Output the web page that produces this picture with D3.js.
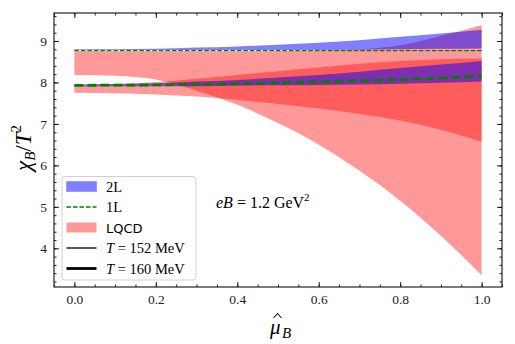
<!DOCTYPE html>
<html>
<head>
<meta charset="utf-8">
<script src="https://cdn.jsdelivr.net/npm/d3@7"></script>
<style>
  body { margin: 0; background: #fff; }
  text { font-family: "Liberation Serif", "DejaVu Serif", serif; }
</style>
</head>
<body>
<div id="chart"></div>
<script>
// values (mu_B hat on x)
var muB = [0, 0.1, 0.2, 0.3, 0.4, 0.5, 0.6, 0.7, 0.8, 0.9, 1.0];

// LQCD bands
var lqcd152Lo = [8.18, 8.16, 8.07, 7.80, 7.46, 7.02, 6.50, 5.87, 5.15, 4.30, 3.35];
var lqcd152Hi = [8.75, 8.75, 8.75, 8.75, 8.75, 8.76, 8.77, 8.80, 8.90, 9.12, 9.38];
var lqcd160Lo = [7.75, 7.74, 7.71, 7.66, 7.58, 7.48, 7.37, 7.24, 7.08, 6.86, 6.57];
var lqcd160Hi = [7.93, 7.96, 8.01, 8.09, 8.18, 8.27, 8.36, 8.45, 8.52, 8.56, 8.58];

// 2L bands
var twoL152Lo = [8.78, 8.78, 8.78, 8.78, 8.78, 8.78, 8.78, 8.79, 8.80, 8.81, 8.82];
var twoL152Hi = [8.80, 8.80, 8.81, 8.84, 8.87, 8.91, 8.96, 9.02, 9.10, 9.18, 9.27];
var twoL160Lo = [7.91, 7.91, 7.91, 7.91, 7.92, 7.93, 7.94, 7.95, 7.97, 7.99, 8.02];
var twoL160Hi = [7.95, 7.96, 7.98, 8.02, 8.06, 8.12, 8.18, 8.26, 8.35, 8.43, 8.52];

// 1L lines
var oneL152 = [8.77, 8.77, 8.77, 8.77, 8.77, 8.77, 8.77, 8.77, 8.77, 8.77, 8.77];
var oneL160 = [7.93, 7.935, 7.94, 7.955, 7.97, 7.99, 8.02, 8.04, 8.07, 8.11, 8.15];

var xTicks = [0, 0.2, 0.4, 0.6, 0.8, 1.0];
var yTicks = [4, 5, 6, 7, 8, 9];

var W = 515, H = 344;
var L = 54, R = 502, T = 13, B = 287;

var svg = d3.select("#chart").append("svg")
  .attr("width", W).attr("height", H);

var x = d3.scaleLinear().domain([-0.05, 1.05]).range([L, R]);
var y = d3.scaleLinear().domain([3.067, 9.675]).range([B, T]);

function band(lo, hi) {
  return d3.area()
    .x(function(d, i) { return x(muB[i]); })
    .y0(function(d, i) { return y(lo[i]); })
    .y1(function(d, i) { return y(hi[i]); })
    .curve(d3.curveMonotoneX)(muB);
}
function line(v) {
  return d3.line()
    .x(function(d, i) { return x(muB[i]); })
    .y(function(d, i) { return y(v[i]); })
    .curve(d3.curveMonotoneX)(muB);
}

var plot = svg.append("g");

// LQCD
[[lqcd152Lo, lqcd152Hi], [lqcd160Lo, lqcd160Hi]].forEach(function(b) {
  plot.append("path").attr("d", band(b[0], b[1]))
    .attr("fill", "red").attr("fill-opacity", 0.4);
});
// 2L
[[twoL152Lo, twoL152Hi], [twoL160Lo, twoL160Hi]].forEach(function(b) {
  plot.append("path").attr("d", band(b[0], b[1]))
    .attr("fill", "blue").attr("fill-opacity", 0.5);
});
// 1L
plot.append("path").attr("d", line(oneL152))
  .attr("fill", "none").attr("stroke", "green")
  .attr("stroke-width", 1.3).attr("stroke-dasharray", "4.5,2");
plot.append("path").attr("d", line(oneL160))
  .attr("fill", "none").attr("stroke", "green")
  .attr("stroke-width", 2.8).attr("stroke-dasharray", "9,4");

// axes, ticks pointing in, on all four sides
var axG = svg.append("g");
var minorX = d3.range(-0.05, 1.0501, 0.05);
var minorY = d3.range(3.2, 9.61, 0.2);

function addAxis(gen, scale, major, minor, tr, showLabels) {
  var g = axG.append("g").attr("transform", tr);
  g.call(gen(scale).tickValues(minor).tickSize(-2.5).tickFormat(""));
  var m = axG.append("g").attr("transform", tr);
  m.call(gen(scale).tickValues(major).tickSize(-5).tickPadding(7)
    .tickFormat(showLabels ? d3.format(scale === x ? ".1f" : "d") : ""));
  [g, m].forEach(function(s) {
    s.select(".domain").remove();
    s.selectAll("line").attr("stroke", "#000").attr("stroke-width", 0.9);
    s.selectAll("text").attr("font-size", 13.5).attr("fill", "#222")
      .style("font-family", "'Liberation Serif', 'DejaVu Serif', serif");
  });
}
addAxis(d3.axisBottom, x, xTicks, minorX, "translate(0," + B + ")", true);
addAxis(d3.axisTop, x, xTicks, minorX, "translate(0," + T + ")", false);
addAxis(d3.axisLeft, y, yTicks, minorY, "translate(" + L + ",0)", true);
addAxis(d3.axisRight, y, yTicks, minorY, "translate(" + R + ",0)", false);

svg.append("rect").attr("x", L).attr("y", T)
  .attr("width", R - L).attr("height", B - T)
  .attr("fill", "none").attr("stroke", "#222").attr("stroke-width", 1.2);

// axis labels
var xl = svg.append("g");
xl.append("text").attr("x", 270).attr("y", 334)
  .attr("font-size", 21).attr("font-style", "italic").text("μ");
// the hat is drawn as a small path
xl.append("path").attr("d", "M273.5,318 L277.5,313.5 L281.5,318")
  .attr("fill", "none").attr("stroke", "#111").attr("stroke-width", 1.1);
xl.append("text").attr("x", 282).attr("y", 338)
  .attr("font-size", 15).attr("font-style", "italic").text("B");

var yl = svg.append("text")
  .attr("transform", "translate(31,148) rotate(-90)")
  .attr("text-anchor", "middle").attr("font-size", 23);
yl.append("tspan").attr("font-style", "italic").text("χ");
yl.append("tspan").attr("font-style", "italic").attr("font-size", 15)
  .attr("dy", 4).text("B");
yl.append("tspan").attr("dy", -4).text("/");
yl.append("tspan").attr("font-style", "italic").text("T");
yl.append("tspan").attr("font-size", 15).attr("dy", -10).text("2");

// annotation
var ann = svg.append("text").attr("x", 216).attr("y", 208).attr("font-size", 16);
ann.append("tspan").attr("font-style", "italic").text("eB");
ann.append("tspan").text(" = 1.2 GeV");
ann.append("tspan").attr("font-size", 11).attr("dy", -7).text("2");

// legend
var leg = svg.append("g");
leg.append("rect").attr("x", 62).attr("y", 176.5)
  .attr("width", 134).attr("height", 103.5).attr("rx", 3)
  .attr("fill", "#fff").attr("fill-opacity", 0.8)
  .attr("stroke", "#d0d0d0").attr("stroke-width", 1);
var rowY = [186.5, 207, 227.5, 248, 268.5];
var lx0 = 66.5, lx1 = 96.5, tx = 106;
leg.append("rect").attr("x", lx0).attr("y", rowY[0] - 5).attr("width", lx1 - lx0).attr("height", 10)
  .attr("fill", "blue").attr("fill-opacity", 0.5)
  .attr("stroke", "blue").attr("stroke-opacity", 0.2);
leg.append("line").attr("x1", lx0).attr("x2", lx1).attr("y1", rowY[1]).attr("y2", rowY[1])
  .attr("stroke", "green").attr("stroke-width", 1.3).attr("stroke-dasharray", "4.5,2");
leg.append("rect").attr("x", lx0).attr("y", rowY[2] - 5).attr("width", lx1 - lx0).attr("height", 10)
  .attr("fill", "red").attr("fill-opacity", 0.4);
leg.append("line").attr("x1", lx0).attr("x2", lx1).attr("y1", rowY[3]).attr("y2", rowY[3])
  .attr("stroke", "#000").attr("stroke-width", 1.3);
leg.append("line").attr("x1", lx0).attr("x2", lx1).attr("y1", rowY[4]).attr("y2", rowY[4])
  .attr("stroke", "#000").attr("stroke-width", 2.8);

function legText(i) {
  return leg.append("text").attr("x", tx).attr("y", rowY[i] + 5).attr("font-size", 14.5);
}
legText(0).text("2L");
legText(1).text("1L");
legText(2).style("font-family", "'DejaVu Sans', sans-serif").attr("font-size", 13).text("LQCD");
[["152"], ["160"]].forEach(function(v, k) {
  var t = legText(3 + k);
  t.append("tspan").attr("font-style", "italic").text("T");
  t.append("tspan").text(" = " + v[0] + " MeV");
});
</script>
</body>
</html>
